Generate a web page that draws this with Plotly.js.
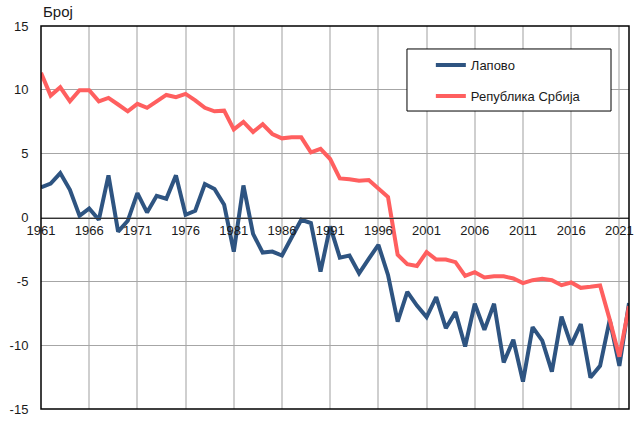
<!DOCTYPE html>
<html>
<head>
<meta charset="utf-8">
<script src="https://cdn.plot.ly/plotly-3.0.1.min.js"></script>
<style>
  html, body { margin: 0; padding: 0; background: #ffffff; }
  #chart { width: 635px; height: 428px; }
</style>
</head>
<body>
<div id="chart"></div>
<script>
const years = [1961,1962,1963,1964,1965,1966,1967,1968,1969,1970,
  1971,1972,1973,1974,1975,1976,1977,1978,1979,1980,
  1981,1982,1983,1984,1985,1986,1987,1988,1989,1990,
  1991,1992,1993,1994,1995,1996,1997,1998,1999,2000,
  2001,2002,2003,2004,2005,2006,2007,2008,2009,2010,
  2011,2012,2013,2014,2015,2016,2017,2018,2019,2020,
  2021,2022];

const lapovo = [2.35,2.65,3.48,2.17,0.13,0.71,-0.18,3.3,-1.1,-0.26,
  1.91,0.4,1.7,1.47,3.3,0.21,0.53,2.62,2.23,1.0,
  -2.67,2.51,-1.28,-2.75,-2.67,-2.98,-1.57,-0.18,-0.44,-4.24,
  -0.7,-3.14,-2.98,-4.37,-3.24,-2.14,-4.5,-8.15,-5.83,-6.9,
  -7.8,-6.23,-8.67,-7.41,-10.1,-6.76,-8.8,-6.76,-11.36,-9.58,
  -12.85,-8.59,-9.64,-12.07,-7.76,-9.98,-8.35,-12.54,-11.62,-8.02,
  -11.62,-6.71];

const srbija = [11.33,9.55,10.2,9.1,9.97,9.97,9.1,9.37,8.85,8.32,
  8.9,8.59,9.1,9.6,9.42,9.68,9.18,8.59,8.32,8.37,
  6.9,7.49,6.7,7.3,6.54,6.2,6.28,6.28,5.1,5.37,
  4.58,3.06,3.0,2.88,2.93,2.3,1.6,-2.92,-3.66,-3.8,
  -2.71,-3.29,-3.29,-3.5,-4.57,-4.28,-4.7,-4.6,-4.6,-4.78,
  -5.14,-4.91,-4.8,-4.91,-5.3,-5.09,-5.51,-5.43,-5.33,-8.0,
  -10.9,-6.95];

const seriesNames = ['Лапово', 'Република Србија'];
const xTickVals = [1961,1966,1971,1976,1981,1986,1991,1996,2001,2006,2011,2016,2021];
const yTickVals = [-15,-10,-5,0,5,10,15];
const yLabel = 'Број';

const FONT = 'Liberation Sans, Arial, sans-serif';

const traces = [
  {x: years, y: lapovo, name: seriesNames[0], type: 'scatter', mode: 'lines',
   legendgroup: 'a', line: {color: '#2E5481', width: 4}},
  {x: years, y: srbija, name: seriesNames[1], type: 'scatter', mode: 'lines',
   legendgroup: 'b', line: {color: '#FF5F5F', width: 4}}
];

const layout = {
  width: 635, height: 428,
  margin: {l: 41, r: 6, t: 26, b: 19, pad: 0},
  paper_bgcolor: '#ffffff', plot_bgcolor: '#ffffff',
  font: {family: FONT, size: 13, color: '#1a1a1a'},
  showlegend: true,
  legend: {
    x: 0.663, y: 0.937, xanchor: 'left', yanchor: 'top',
    bgcolor: 'rgba(0,0,0,0)', borderwidth: 0,
    tracegroupgap: 11, traceorder: 'grouped',
    font: {family: FONT, size: 13, color: '#1a1a1a'}
  },
  xaxis: {
    range: [1961, 2022], tickvals: xTickVals, ticktext: xTickVals.map(String),
    anchor: 'free', position: 0.5,
    showgrid: true, gridcolor: '#cfcfcf', gridwidth: 2,
    showline: true, linecolor: '#333333', linewidth: 1.5,
    zeroline: false, ticks: '', tickfont: {family: FONT, size: 13, color: '#1a1a1a'},
    fixedrange: true
  },
  yaxis: {
    range: [-15, 15], tickvals: yTickVals, ticktext: yTickVals.map(String),
    showgrid: true, gridcolor: '#a6a6a6', gridwidth: 1,
    zeroline: false, showline: false,
    ticks: 'outside', ticklen: 9, tickcolor: 'rgba(0,0,0,0)',
    tickfont: {family: FONT, size: 13, color: '#1a1a1a'},
    fixedrange: true
  },
  shapes: [
    {type: 'rect', xref: 'paper', yref: 'paper', x0: 0, x1: 1, y0: 0, y1: 1,
     line: {color: '#000000', width: 1.5}, layer: 'above'},
    {type: 'rect', xref: 'paper', yref: 'paper', x0: 0.6224, x1: 0.9694, y0: 0.778, y1: 0.940,
     line: {color: '#000000', width: 1}, fillcolor: '#ffffff', layer: 'above'}
  ],
  annotations: [
    {text: yLabel, xref: 'paper', yref: 'paper', x: 0, y: 1, xanchor: 'left', yanchor: 'bottom',
     yshift: 4, showarrow: false, font: {family: FONT, size: 15, color: '#1a1a1a'}}
  ]
};

Plotly.newPlot('chart', traces, layout, {displayModeBar: false, staticPlot: true});
</script>
</body>
</html>
